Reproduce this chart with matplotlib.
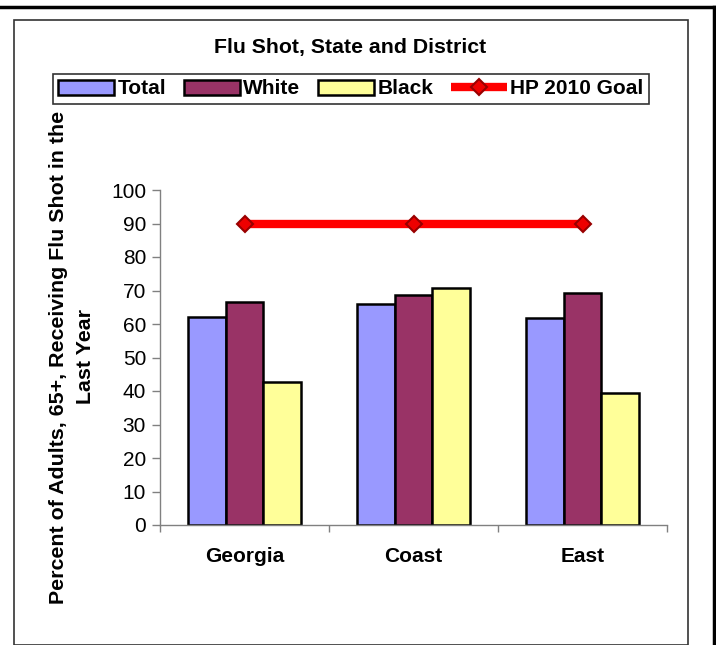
import matplotlib
matplotlib.use("Agg")
import matplotlib.pyplot as plt
import numpy as np
from matplotlib.lines import Line2D
from matplotlib.patches import Rectangle

plt.rcParams['font.family'] = ['Liberation Sans', 'DejaVu Sans']

# Data
regions = ["Georgia", "Coast", "East"]
total = [62.0, 66.1, 61.8]
white = [66.6, 68.6, 69.4]
black = [42.7, 70.6, 39.3]
goal = [90, 90, 90]
series_names = ["Total", "White", "Black"]
goal_name = "HP 2010 Goal"
title = "Flu Shot, State and District"
ylabel = "Percent of Adults, 65+, Receiving Flu Shot in the\nLast Year"
yticks = list(range(0, 101, 10))

colors = ["#9999FF", "#993366", "#FFFF99"]

W, H = 716, 645
fig = plt.figure(figsize=(W / 100, H / 100), dpi=100)

def fx(px):
    return px / W

def fy(py):
    return 1 - py / H

# plot area in pixel coordinates
L, R, T, B = 160, 667, 190, 525
ax = fig.add_axes([fx(L), fy(B), fx(R) - fx(L), fy(T) - fy(B)])

x = np.arange(len(regions))
bw = 1 / 4.5  # gap width 150% of a bar
bars = []
for i, (vals, c) in enumerate(zip([total, white, black], colors)):
    b = ax.bar(x + (i - 1) * bw, vals, width=bw, color=c, edgecolor="black",
               linewidth=1.8, label=series_names[i], zorder=2)
    bars.append(b)

goal_line, = ax.plot(x, goal, color="#FF0000", linewidth=6, marker="D", markersize=8.5,
                     markerfacecolor="#EE0000", markeredgecolor="#990000",
                     markeredgewidth=1.5, label=goal_name, zorder=3,
                     solid_capstyle="butt")

ax.set_xlim(-0.5, len(regions) - 0.5)
ax.set_ylim(0, 100)
ax.set_yticks(yticks)
ax.set_yticklabels([str(v) for v in yticks], fontsize=15)
ax.tick_params(axis="y", direction="out", length=6, width=1, color="#808080", pad=4)

ax.set_xticks(np.arange(len(regions) + 1) - 0.5)
ax.set_xticklabels([])
ax.tick_params(axis="x", which="major", direction="out", length=5, width=1, color="#808080")
ax.set_xticks(x, minor=True)
ax.set_xticklabels(regions, minor=True, fontsize=15, fontweight="bold")
ax.tick_params(axis="x", which="minor", length=0, pad=16)

for s in ["top", "right"]:
    ax.spines[s].set_visible(False)
for s in ["left", "bottom"]:
    ax.spines[s].set_color("#808080")
    ax.spines[s].set_linewidth(1)

# title
fig.text(fx(350), fy(48), title, ha="center", va="center", fontsize=15.3, fontweight="bold")

# y label
fig.text(fx(72), fy(357), ylabel, ha="center", va="center", rotation=90,
         fontsize=15.4, fontweight="bold", linespacing=1.55, multialignment="center")

# legend
handles = bars + [goal_line]
labels = series_names + [goal_name]
leg = fig.legend(handles, labels, loc="center", bbox_to_anchor=(fx(351), fy(89)),
                 ncol=4, frameon=True, fancybox=False, edgecolor="black",
                 prop={"size": 15, "weight": "bold"}, handlelength=2.7,
                 handletextpad=0.15, columnspacing=0.85, borderpad=0.25,
                 borderaxespad=0)
leg.get_frame().set_linewidth(1.2)

# chart area frame
fig.add_artist(Rectangle((fx(13.5), fy(644.5)), fx(687.5) - fx(13.5), fy(19.5) - fy(644.5),
                         transform=fig.transFigure, fill=False, edgecolor="#333333",
                         linewidth=1.2))
# outer frame
fig.add_artist(Line2D([0, fx(713.5)], [fy(7), fy(7)], transform=fig.transFigure,
                      color="black", linewidth=2.5))
fig.add_artist(Line2D([fx(713.5), fx(713.5)], [fy(7), 0], transform=fig.transFigure,
                      color="black", linewidth=2.5))

fig.savefig("out.png", dpi=100)
